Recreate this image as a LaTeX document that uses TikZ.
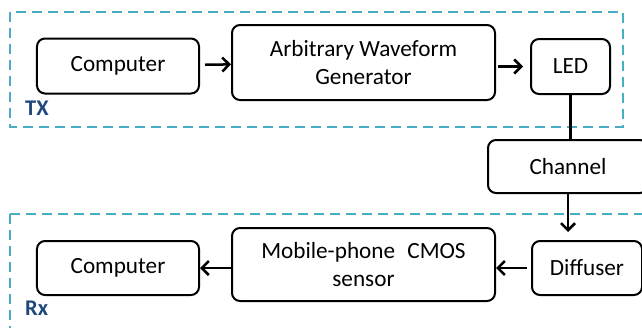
\documentclass[tikz,border=0pt]{standalone}
\usepackage{fontspec}
\setmainfont{Carlito}
\definecolor{myaqua}{RGB}{75,172,198}
\definecolor{mynavy}{RGB}{31,73,125}
\usetikzlibrary{arrows.meta,positioning}

\begin{document}
\begin{tikzpicture}[x=1bp,y=-1bp,
    every node/.style={font=\fontsize{23.3}{28}\selectfont},
    block/.style={draw,line width=2bp,rounded corners=8bp,align=center,inner sep=0pt},
    group/.style={draw=myaqua,line width=2bp,dash pattern=on 10bp off 6bp},
    tag/.style={text=mynavy,font=\fontsize{22.5}{28}\selectfont\bfseries,anchor=west,inner sep=0pt},
    link/.style={line width=2.5bp,-{Straight Barb[length=7bp,width=14bp]}}
    ]
    \clip (0,0) rectangle (642,327);

    % the groups
    \draw[group] (10,12) rectangle (623,127);
    \draw[group] (10,214) rectangle (660,345);
    \node[tag] (tx) at (25,108) {TX};
    \node[tag] (rx) at (25,308) {Rx};

    % the transmitter
    \node[block,minimum width=162bp,minimum height=55bp] (comptx) at (118,66) {Computer};
    \node[block,minimum width=263bp,minimum height=75bp] (awg) at (363.5,62.5) {Arbitrary Waveform\\Generator};
    \node[block,minimum width=79bp,minimum height=55bp] (led) at (570.5,66.5) {LED};

    % the channel
    \node[block,minimum width=160bp,minimum height=53bp] (channel) at (568,166.5) {Channel};

    % the receiver
    \node[block,minimum width=110bp,minimum height=54bp] (diffuser) at (587,268) {Diffuser};
    \node[block,minimum width=263bp,minimum height=73bp] (cmos) at (363.5,264.5) {Mobile-phone\hspace{0.3em} CMOS\\sensor};
    \node[block,minimum width=162bp,minimum height=54bp] (comprx) at (118,268) {Computer};

    % the links
    \draw[link,shorten <=5bp] (comptx) -- (awg);
    \draw[link,shorten <=2bp,shorten >=7bp] (awg.east |- led) -- (led);
    \draw[line width=2.5bp] (channel.north -| led.south) -- (led.south);
    \draw[link,shorten >=8bp] (channel.south) -- (channel.south |- diffuser.north);
    \draw[link,shorten <=4bp] (diffuser) -- (diffuser.west -| cmos.east);
    \draw[link] (comprx.east -| cmos.west) -- (comprx);
\end{tikzpicture}
\end{document}
